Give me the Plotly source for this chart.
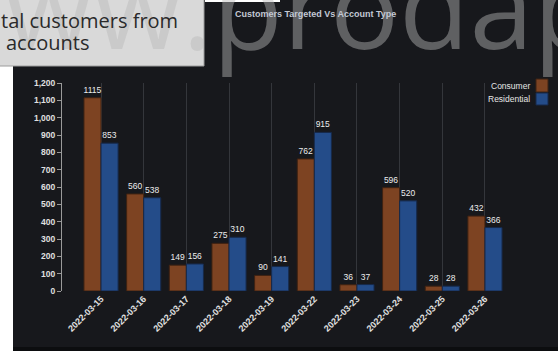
import plotly.graph_objects as go

dates = ["2022-03-15", "2022-03-16", "2022-03-17", "2022-03-18", "2022-03-19",
         "2022-03-22", "2022-03-23", "2022-03-24", "2022-03-25", "2022-03-26"]
consumer = [1115, 560, 149, 275, 90, 762, 36, 596, 28, 432]
residential = [853, 538, 156, 310, 141, 915, 37, 520, 28, 366]
series_names = ["Consumer", "Residential"]
colors = ["#7d4322", "#244c89"]
edge_colors = ["#3e2212", "#16294a"]
title_text = "Customers Targeted Vs Account Type"
box_lines = ["tal customers from", "accounts"]
watermark = "www.prodapt.com"

W, H = 558, 351
L, R, T, B = 62, 34, 83, 60
PW, PH = W - L - R, H - T - B


def px(x):
    return (x - L) / PW


def py(y):
    return (H - B - y) / PH


BG = "#17181c"
fig = go.Figure()
for name, vals, col, ec in zip(series_names, [consumer, residential], colors, edge_colors):
    fig.add_trace(go.Bar(
        x=dates, y=vals, name=name,
        marker=dict(color=col, line=dict(color=ec, width=1)),
        text=[str(v) for v in vals], textposition="outside",
        textfont=dict(family="Liberation Sans", size=8.5, color="#ececec"),
        constraintext="none", cliponaxis=False,
    ))

fig.update_layout(
    width=W, height=H,
    margin=dict(l=L, r=R, t=T, b=B, pad=0),
    paper_bgcolor=BG, plot_bgcolor=BG,
    barmode="group", bargap=0.2, bargroupgap=0,
    showlegend=False,
    xaxis=dict(type="category", range=[-0.915, 9.915], showgrid=True,
               gridcolor="#34363b", gridwidth=1, showline=False, ticks="",
               tickangle=-45, zeroline=False,
               tickfont=dict(family="Liberation Sans", size=9, color="#e0e0e0", weight="bold")),
    yaxis=dict(range=[0, 1200], dtick=100, tickformat=",", showgrid=False,
               showline=True, linecolor="#9a9a9a", linewidth=1, ticks="outside",
               ticklen=4, tickcolor="#9a9a9a", zeroline=False,
               tickfont=dict(family="Liberation Sans", size=8.5, color="#e0e0e0", weight="bold")),
)

shapes = [
    dict(type="rect", xref="paper", yref="paper", x0=px(13), x1=px(W + 5), y0=py(347), y1=py(H + 5),
         fillcolor="#0c0d0f", line=dict(width=0), layer="below"),
    dict(type="rect", xref="paper", yref="paper", x0=px(-5), x1=px(13), y0=py(H + 5), y1=py(66),
         fillcolor="#ffffff", line=dict(width=0), layer="above"),
    dict(type="rect", xref="paper", yref="paper", x0=px(205), x1=px(280), y0=py(2), y1=py(-5),
         fillcolor="#ffffff", line=dict(width=0), layer="above"),
    dict(type="rect", xref="paper", yref="paper", x0=px(-5), x1=px(204), y0=py(66), y1=py(-5),
         fillcolor="#d9d9d9", line=dict(color="#9c9c9c", width=1), layer="above"),
    dict(type="rect", xref="paper", yref="paper", x0=px(536), x1=px(548), y0=py(92), y1=py(79),
         fillcolor=colors[0], line=dict(color=edge_colors[0], width=1), layer="above"),
    dict(type="rect", xref="paper", yref="paper", x0=px(536), x1=px(548), y0=py(105), y1=py(93),
         fillcolor=colors[1], line=dict(color=edge_colors[1], width=1), layer="above"),
]
fig.update_layout(shapes=shapes)

annotations = [
    dict(text=watermark, xref="paper", yref="paper", x=px(-87), y=py(4),
         xanchor="left", yanchor="middle", showarrow=False,
         font=dict(family="Open Sans", size=115, color="rgba(185,185,185,0.45)")),
    dict(text=box_lines[0], xref="paper", yref="paper", x=px(-1), y=py(21),
         xanchor="left", yanchor="middle", showarrow=False,
         font=dict(family="Open Sans", size=20, color="#2a2a2a")),
    dict(text=box_lines[1], xref="paper", yref="paper", x=px(4), y=py(42),
         xanchor="left", yanchor="middle", showarrow=False,
         font=dict(family="Open Sans", size=20, color="#2a2a2a")),
    dict(text=title_text, xref="paper", yref="paper", x=px(315), y=py(14),
         xanchor="center", yanchor="middle", showarrow=False,
         font=dict(family="Liberation Sans", size=9, color="#c3c9d4", weight="bold")),
    dict(text=series_names[0], xref="paper", yref="paper", x=px(532), y=py(86),
         xanchor="right", yanchor="middle", showarrow=False,
         font=dict(family="Liberation Sans", size=8.5, color="#e6e6e6")),
    dict(text=series_names[1], xref="paper", yref="paper", x=px(532), y=py(99),
         xanchor="right", yanchor="middle", showarrow=False,
         font=dict(family="Liberation Sans", size=8.5, color="#e6e6e6")),
]
fig.update_layout(annotations=annotations)

fig.write_html("out.html")
